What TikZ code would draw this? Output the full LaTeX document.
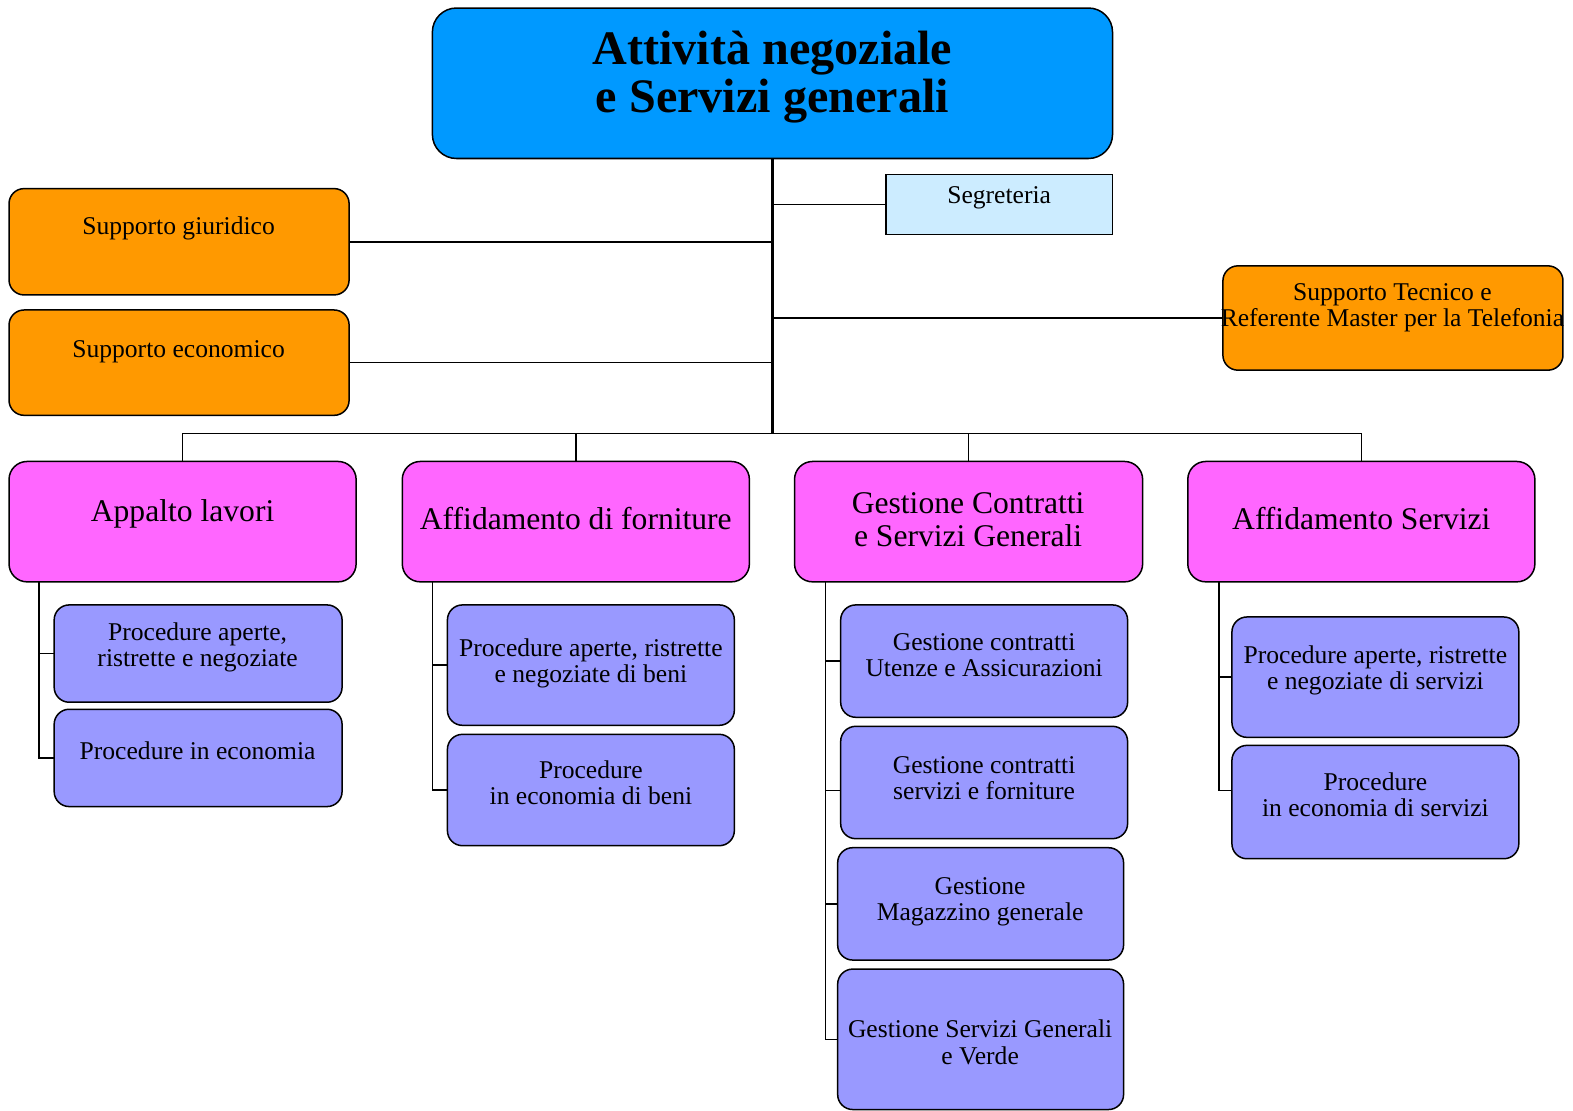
\documentclass[tikz,border=0pt]{standalone}
\usepackage{fontspec}
\setmainfont{Liberation Serif}
\definecolor{titleblue}{HTML}{0099FF}
\definecolor{orangebox}{HTML}{FF9900}
\definecolor{lightblue}{HTML}{CCECFF}
\definecolor{magentabox}{HTML}{FF66FF}
\definecolor{lavender}{HTML}{9999FF}
\begin{document}
\begin{tikzpicture}[x=1pt,y=-1pt,
  box/.style={draw=black,line width=1.5pt,anchor=north west,inner sep=0pt,outer sep=0pt},
  titlebox/.style={box,fill=titleblue,rounded corners=24pt},
  obox/.style={box,fill=orangebox,rounded corners=15pt},
  sbox/.style={box,fill=lightblue,line width=1.4pt},
  mbox/.style={box,fill=magentabox,rounded corners=18pt},
  lbox/.style={box,fill=lavender,rounded corners=15pt},
  txt/.style={inner sep=0pt,align=center,font=\fontsize{25.5}{26}\selectfont},
  mtxt/.style={inner sep=0pt,align=center,font=\fontsize{31.5}{32}\selectfont},
  ttxt/.style={inner sep=0pt,align=center,font=\fontsize{48}{48}\selectfont\bfseries},
  conn/.style={draw=black,line width=1.6pt},
  trunkline/.style={draw=black,line width=2.4pt}]
\useasboundingbox (0,0) rectangle (1568,1107);

% boxes
\node[titlebox,minimum width=678pt,minimum height=150pt] (title) at (431,8) {};
\node[sbox,minimum width=226pt,minimum height=60pt] (seg) at (883,174) {};
\node[obox,minimum width=339pt,minimum height=106pt] (giu) at (9,188) {};
\node[obox,minimum width=339pt,minimum height=105pt] (eco) at (9,309) {};
\node[obox,minimum width=339pt,minimum height=104pt] (tec) at (1219,265) {};

\node[mbox,minimum width=346pt,minimum height=120pt] (m1) at (9,460) {};
\node[mbox,minimum width=346pt,minimum height=120pt] (m2) at (401,460) {};
\node[mbox,minimum width=347pt,minimum height=120pt] (m3) at (792,460) {};
\node[mbox,minimum width=346pt,minimum height=120pt] (m4) at (1184,460) {};

\node[lbox,minimum width=287pt,minimum height=97pt] (b11) at (54,603) {};
\node[lbox,minimum width=287pt,minimum height=97pt] (b12) at (54,707) {};
\node[lbox,minimum width=286pt,minimum height=120pt] (b21) at (446,603) {};
\node[lbox,minimum width=286pt,minimum height=111pt] (b22) at (446,732) {};
\node[lbox,minimum width=286pt,minimum height=112pt] (b31) at (838,603) {};
\node[lbox,minimum width=286pt,minimum height=112pt] (b32) at (838,724) {};
\node[lbox,minimum width=285pt,minimum height=112pt] (b33) at (835,845) {};
\node[lbox,minimum width=285pt,minimum height=140pt] (b34) at (835,966) {};
\node[lbox,minimum width=286pt,minimum height=120pt] (b41) at (1228,615) {};
\node[lbox,minimum width=286pt,minimum height=113pt] (b42) at (1228,743) {};

% texts
\node[ttxt] (ttitle) at (770,77) {Attività negoziale\\e Servizi generali};
\node[txt] (tseg) at (996,197) {Segreteria};
\node[txt] (tgiu) at (178,228) {Supporto giuridico};
\node[txt] (teco) at (178,351) {Supporto economico};
\node[txt] (ttec) at (1388,307) {Supporto Tecnico e\\Referente Master per la Telefonia};
\node[mtxt] (tm1) at (182,512) {Appalto lavori};
\node[mtxt] (tm2) at (574,517) {Affidamento di forniture};
\node[mtxt] (tm3) at (965,518) {Gestione Contratti\\e Servizi Generali};
\node[mtxt] (tm4) at (1357,517) {Affidamento Servizi};
\node[txt] (tb11) at (197,645) {Procedure aperte,\\ristrette e negoziate};
\node[txt] (tb12) at (197,748) {Procedure in economia};
\node[txt] (tb21) at (589,661) {Procedure aperte, ristrette\\e negoziate di beni};
\node[txt] (tb22) at (589,780) {Procedure\\in economia di beni};
\node[txt] (tb31) at (981,653) {Gestione contratti\\Utenze e Assicurazioni};
\node[txt] (tb32) at (981,776) {Gestione contratti\\servizi e forniture};
\node[txt] (tb33) at (977,899) {Gestione\\Magazzino generale};
\node[txt] (tb34) at (977,1039) {Gestione Servizi Generali\\e Verde};
\node[txt] (tb41) at (1371,668) {Procedure aperte, ristrette\\e negoziate di servizi};
\node[txt] (tb42) at (1371,792) {Procedure\\in economia di servizi};

% connectors
\coordinate (bus) at (770,432);
\draw[trunkline] (title.south) -- (bus);
\draw[conn] (seg.west) -- (seg.west -| title.south);
\draw[conn] (giu.east) -- (giu.east -| title.south);
\draw[conn] (eco.east) -- (eco.east -| title.south);
\draw[conn] (tec.west) -- (tec.west -| title.south);
\draw[conn] (m1.north |- bus) -- (m4.north |- bus);
\foreach \m in {m1,m2,m3,m4}{\draw[conn] (\m.north |- bus) -- (\m.north);}

\coordinate (v1) at (39,580);
\coordinate (v2) at (431,580);
\coordinate (v3) at (823,580);
\coordinate (v4) at (1215,580);
\draw[conn] (v1) |- (b12.west);
\draw[conn] (v1 |- b11.west) -- (b11.west);
\draw[conn] (v2) |- (b22.west);
\draw[conn] (v2 |- b21.west) -- (b21.west);
\draw[conn] (v3) |- (b34.west);
\draw[conn] (v3 |- b31.west) -- (b31.west);
\draw[conn] (v3 |- 0,788) -- (b32.west |- 0,788);
\draw[conn] (v3 |- b33.west) -- (b33.west);
\draw[conn] (v4) |- (b42.west |- 0,788);
\draw[conn] (v4 |- b41.west) -- (b41.west);
\end{tikzpicture}
\end{document}
